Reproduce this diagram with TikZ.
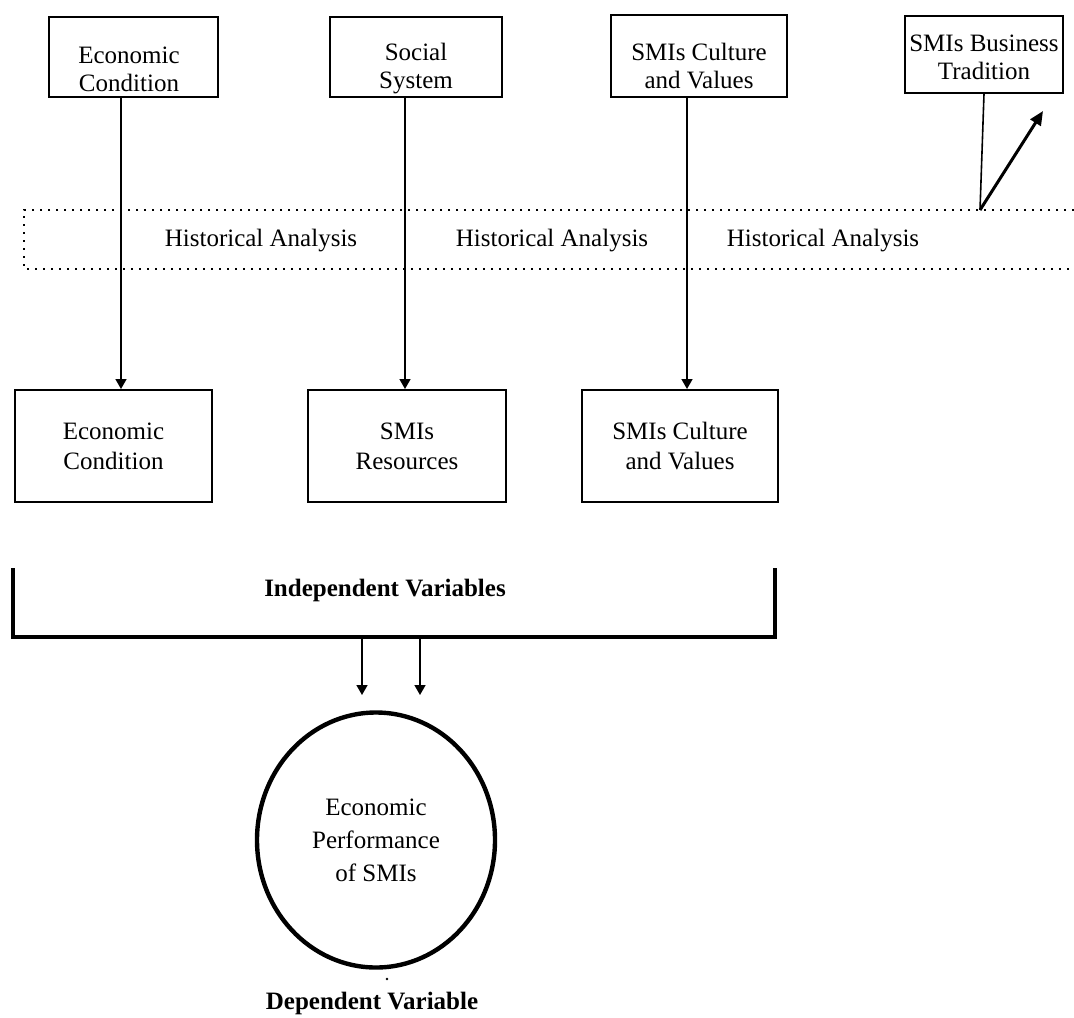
\documentclass[tikz,border=0pt]{standalone}
\usepackage{fontspec}
\setmainfont{Liberation Serif}
\usetikzlibrary{arrows.meta,shapes.geometric}
\begin{document}
\begin{tikzpicture}[x=0.5pt,y=-0.5pt,
  box/.style={draw,line width=1pt,inner sep=0pt},
  lbl/.style={align=center,inner sep=0pt,font=\fontsize{12.5}{14}\selectfont},
  lblwide/.style={align=center,inner sep=0pt,font=\fontsize{12.5}{15}\selectfont},
  tip/.style={-{Triangle[length=5pt,width=5.5pt]}},
  conn/.style={line width=0.8pt,tip},
  plain/.style={line width=0.8pt},
  dots/.style={line width=1pt,dash pattern=on 1pt off 3pt},
  bracket/.style={line width=2pt,line join=miter},
  boldlbl/.style={inner sep=0pt,font=\fontsize{12.5}{14}\selectfont\bfseries}]
\useasboundingbox (0,0) rectangle (1074,1017);

% ---- upper row of factors
\node[box,minimum width=84.5pt,minimum height=40pt] (t1) at (133.5,57) {};
\node[box,minimum width=86pt,minimum height=40pt] (t2) at (416,57) {};
\node[box,minimum width=88pt,minimum height=41pt] (t3) at (699,56) {};
\node[box,minimum width=79pt,minimum height=38.5pt] (t4) at (984,54) {};
\node[lbl] (t1l) at (129,69) {Economic\\Condition};
\node[lbl] (t2l) at (416,69) {Social\\System};
\node[lbl] (t3l) at (699,66) {SMIs Culture\\and Values};
\node[lbl] (t4l) at (984,57) {SMIs Business\\Tradition};

% ---- dotted band of historical analysis
\coordinate (dtr) at (1074,210);
\coordinate (dtl) at (24,210);
\coordinate (dbl) at (24,269);
\coordinate (dbr) at (1074,269);
\draw[dots] (dtr) -- (dtl) -- (dbl) -- (dbr);
\node[lbl] (h1) at (261,241) {Historical Analysis};
\node[lbl] (h2) at (552,241) {Historical Analysis};
\node[lbl] (h3) at (823,241) {Historical Analysis};

% ---- lower row of independent variables
\node[box,lblwide,minimum width=98.5pt,minimum height=56pt] (b1) at (113.5,446) {Economic\\Condition};
\node[box,lblwide,minimum width=99pt,minimum height=56pt] (b2) at (407,446) {SMIs\\Resources};
\node[box,lblwide,minimum width=98pt,minimum height=56pt] (b3) at (680,446) {SMIs Culture\\and Values};

% ---- vertical connectors through the band
\coordinate (x1) at (121,0);
\coordinate (x2) at (405,0);
\coordinate (x3) at (687,0);
\draw[conn] (t1.south -| x1) -- (b1.north -| x1);
\draw[conn] (t2.south -| x2) -- (b2.north -| x2);
\draw[conn] (t3.south -| x3) -- (b3.north -| x3);

% ---- business tradition link
\coordinate (hb) at (980,210);
\coordinate (bt) at (1043,111);
\draw[plain] (t4.south) -- (hb);
\draw[line width=1.5pt,-{Triangle[length=7pt,width=6pt]}] (hb) -- (bt);

% ---- bracket grouping the independent variables
\coordinate (kl) at (13,568);
\coordinate (kr) at (775,568);
\draw[bracket] (kl) -- (13,637) -- (775,637) -- (kr);
\node[boldlbl] (iv) at (385,590) {Independent Variables};

% ---- arrows into the dependent variable
\coordinate (a1s) at (362,637);
\coordinate (a1e) at (362,695);
\coordinate (a2s) at (420,637);
\coordinate (a2e) at (420,695);
\draw[conn] (a1s) -- (a1e);
\draw[conn] (a2s) -- (a2e);

\node[ellipse,draw,line width=2.2pt,minimum width=119pt,minimum height=127.5pt,
      inner sep=0pt,align=center,font=\fontsize{12.5}{16.5}\selectfont] (perf) at (376,840)
      {Economic\\Performance\\of SMIs};
\fill (387,979) circle (1.3);
\node[boldlbl] (dv) at (372,1003) {Dependent Variable};
\end{tikzpicture}
\end{document}
